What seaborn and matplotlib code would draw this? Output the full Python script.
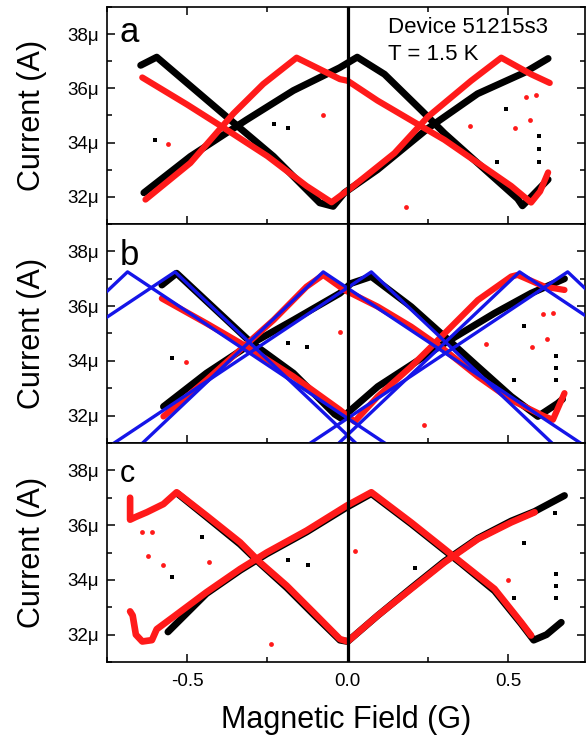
import matplotlib
matplotlib.use('Agg')
import matplotlib.pyplot as plt
import seaborn as sns
from matplotlib.ticker import MultipleLocator, FuncFormatter

# ---- panel a : measured branches (field in G, current in uA) ----
a_blk1_x = [-0.645, -0.595, -0.377, -0.231, -0.087, -0.045, -0.01, 0.093, 0.25, 0.405, 0.551, 0.625]
a_blk1_y = [36.85, 37.15, 34.95, 33.49, 31.78, 31.65, 32.15, 33.0, 34.52, 35.8, 36.58, 37.1]
a_blk2_x = [-0.635, -0.49, -0.315, -0.169, -0.025, 0.03, 0.115, 0.23, 0.302, 0.405, 0.53, 0.545, 0.625]
a_blk2_y = [32.15, 33.49, 34.84, 35.92, 36.76, 37.15, 36.52, 35.19, 34.34, 33.25, 31.93, 31.67, 32.64]
a_red1_x = [-0.64, -0.50, -0.40, -0.25, -0.128, -0.05, 0.012, 0.146, 0.25, 0.385, 0.479, 0.572, 0.63]
a_red1_y = [36.4, 35.4, 34.65, 33.5, 32.4, 31.8, 32.34, 33.61, 34.95, 36.28, 37.13, 36.52, 36.2]
a_red2_x = [-0.63, -0.49, -0.356, -0.263, -0.159, -0.024, 0.0, 0.093, 0.198, 0.302, 0.406, 0.51, 0.572, 0.60, 0.625]
a_red2_y = [31.9, 33.25, 35.07, 36.16, 37.13, 36.34, 36.28, 35.55, 34.82, 34.1, 33.25, 32.4, 31.79, 32.2, 32.9]
a_blk_out_x = [-0.60, -0.185, -0.231, 0.494, 0.467, 0.596, 0.596, 0.596]
a_blk_out_y = [34.1, 34.52, 34.68, 35.24, 33.28, 34.23, 33.75, 33.28]
a_red_out_x = [-0.56, -0.077, 0.183, 0.523, 0.38, 0.555, 0.586, 0.567]
a_red_out_y = [33.95, 35.0, 31.62, 34.55, 34.6, 35.68, 35.75, 34.84]

# ---- panel b : measured branches ----
b_blk1_x = [-0.579, -0.533, -0.304, -0.169, -0.04, -0.02, 0.0, 0.094, 0.302, 0.458, 0.572, 0.676]
b_blk1_y = [36.77, 37.2, 34.7, 33.55, 32.05, 31.9, 32.1, 33.06, 34.64, 35.74, 36.47, 37.0]
b_blk2_x = [-0.574, -0.44, -0.304, -0.169, -0.024, 0.011, 0.074, 0.198, 0.302, 0.406, 0.51, 0.593, 0.655, 0.67]
b_blk2_y = [32.33, 33.55, 34.6, 35.49, 36.47, 36.83, 37.08, 35.98, 34.89, 33.79, 32.7, 31.97, 32.45, 32.6]
b_red1_x = [-0.579, -0.44, -0.315, -0.169, -0.024, 0.022, 0.094, 0.198, 0.302, 0.406, 0.51, 0.53, 0.614, 0.676]
b_red1_y = [36.28, 35.37, 34.52, 33.43, 32.21, 31.78, 32.7, 33.79, 35.0, 36.22, 37.08, 37.14, 36.71, 36.59]
b_red2_x = [-0.574, -0.44, -0.335, -0.231, -0.128, -0.076, -0.01, 0.094, 0.198, 0.302, 0.406, 0.51, 0.614, 0.64, 0.676]
b_red2_y = [31.97, 33.3, 34.4, 35.49, 36.71, 37.14, 36.59, 35.98, 35.25, 34.4, 33.43, 32.57, 31.97, 31.85, 32.82]
b_blk_out_x = [-0.546, -0.128, -0.185, 0.551, 0.65, 0.65, 0.65, 0.52]
b_blk_out_y = [34.1, 34.52, 34.65, 35.27, 34.18, 33.75, 33.3, 33.3]
b_red_out_x = [-0.505, -0.024, 0.237, 0.432, 0.574, 0.608, 0.64, 0.62]
b_red_out_y = [33.97, 35.07, 31.64, 34.62, 34.52, 35.71, 35.76, 34.8]

# ---- panel b : model lines (one inverted V per flux state) ----
fit_peaks_x = [-0.686, -0.538, -0.076, 0.074, 0.536, 0.686]
fit_left_x = [-1.285, -1.391, -0.675, -0.779, -0.063, -0.167]
fit_right_x = [0.167, 0.061, 0.777, 0.673, 1.389, 1.285]
fit_peak_y = 37.25
fit_base_y = 30.6

# ---- panel c : measured branches ----
c_blk1_x = [-0.53, -0.44, -0.335, -0.273, -0.19, -0.107, -0.024, 0.0, 0.094, 0.198, 0.302, 0.406, 0.51, 0.583, 0.676]
c_blk1_y = [37.15, 36.3, 35.3, 34.6, 33.72, 32.75, 31.8, 31.75, 32.7, 33.7, 34.68, 35.52, 36.15, 36.5, 37.08]
c_blk2_x = [-0.56, -0.44, -0.335, -0.252, -0.128, -0.003, 0.074, 0.198, 0.302, 0.354, 0.458, 0.541, 0.58, 0.62, 0.666]
c_blk2_y = [32.1, 33.5, 34.35, 34.95, 35.75, 36.65, 37.15, 36.05, 35.08, 34.6, 33.6, 32.4, 31.8, 32.0, 32.45]
c_red1_x = [-0.678, -0.678, -0.66, -0.626, -0.574, -0.533, -0.44, -0.335, -0.273, -0.19, -0.107, -0.024, 0.0, 0.094, 0.198, 0.302, 0.406, 0.51, 0.583]
c_red1_y = [37.0, 36.2, 36.3, 36.47, 36.77, 37.2, 36.35, 35.37, 34.64, 33.79, 32.82, 31.84, 31.75, 32.7, 33.67, 34.64, 35.49, 36.1, 36.47]
c_red2_x = [-0.678, -0.67, -0.66, -0.64, -0.61, -0.595, -0.543, -0.44, -0.335, -0.252, -0.128, -0.003, 0.074, 0.198, 0.302, 0.354, 0.458, 0.541, 0.572]
c_red2_y = [32.85, 32.7, 32.0, 31.75, 31.8, 32.2, 32.65, 33.55, 34.4, 35.0, 35.8, 36.71, 37.2, 36.1, 35.13, 34.64, 33.67, 32.45, 31.97]
c_blk_out_x = [-0.546, -0.455, -0.125, -0.185, 0.209, 0.52, 0.551, 0.65, 0.65, 0.65, 0.645]
c_blk_out_y = [34.12, 35.55, 34.54, 34.74, 34.42, 33.33, 35.34, 34.22, 33.77, 33.33, 36.44]
c_red_out_x = [-0.642, -0.611, -0.621, -0.576, -0.432, -0.24, 0.022, 0.50]
c_red_out_y = [35.76, 35.75, 34.89, 34.54, 34.64, 31.66, 35.07, 34.01]

BLACK = '#000000'
RED = '#ff1a1a'
BLUE = '#1515e8'

sns.set_theme(style='ticks')
plt.rcParams['font.family'] = ['Liberation Sans', 'DejaVu Sans']


def branch(ax, xs, ys, color, lw):
    sns.lineplot(x=xs, y=ys, sort=False, estimator=None, color=color, lw=lw,
                 ax=ax, solid_capstyle='round', solid_joinstyle='round')


def outliers(ax, bx, by, rx, ry):
    sns.scatterplot(x=bx, y=by, marker='s', s=11, color=BLACK, linewidth=0, ax=ax)
    sns.scatterplot(x=rx, y=ry, marker='o', s=12, color=RED, linewidth=0, ax=ax)


fig = plt.figure(figsize=(5.86, 7.36), dpi=100)
left, width = 0.1826, 0.8157
ax_a = fig.add_axes([left, 0.6957, width, 0.2948])
ax_b = fig.add_axes([left, 0.3981, width, 0.2976])
ax_c = fig.add_axes([left, 0.1005, width, 0.2976])

# panel a
branch(ax_a, a_blk1_x, a_blk1_y, BLACK, 5)
branch(ax_a, a_blk2_x, a_blk2_y, BLACK, 5)
branch(ax_a, a_red1_x, a_red1_y, RED, 4.5)
branch(ax_a, a_red2_x, a_red2_y, RED, 4.5)
outliers(ax_a, a_blk_out_x, a_blk_out_y, a_red_out_x, a_red_out_y)

# panel b
branch(ax_b, b_blk1_x, b_blk1_y, BLACK, 5)
branch(ax_b, b_blk2_x, b_blk2_y, BLACK, 5)
branch(ax_b, b_red1_x, b_red1_y, RED, 4.5)
branch(ax_b, b_red2_x, b_red2_y, RED, 4.5)
outliers(ax_b, b_blk_out_x, b_blk_out_y, b_red_out_x, b_red_out_y)
for xl, xp, xr in zip(fit_left_x, fit_peaks_x, fit_right_x):
    ax_b.plot([xl, xp, xr], [fit_base_y, fit_peak_y, fit_base_y], color=BLUE, lw=2.4, zorder=4)

# panel c
branch(ax_c, c_blk1_x, c_blk1_y, BLACK, 5)
branch(ax_c, c_blk2_x, c_blk2_y, BLACK, 5)
branch(ax_c, c_red1_x, c_red1_y, RED, 4.8)
branch(ax_c, c_red2_x, c_red2_y, RED, 4.8)
outliers(ax_c, c_blk_out_x, c_blk_out_y, c_red_out_x, c_red_out_y)

fmt = FuncFormatter(lambda v, p: f'{v:.0f}\u03bc')
for ax, letter, lsize, ly in [(ax_a, 'a', 25, 0.84), (ax_b, 'b', 25, 0.813), (ax_c, 'c', 22, 0.823)]:
    ax.set_xlim(-0.75, 0.74)
    ax.set_ylim(31.0, 39.0)
    ax.axvline(0, color=BLACK, lw=2.3, zorder=6)
    ax.xaxis.set_major_locator(MultipleLocator(0.5))
    ax.xaxis.set_minor_locator(MultipleLocator(0.25))
    ax.set_yticks([32, 34, 36, 38])
    ax.yaxis.set_minor_locator(MultipleLocator(1))
    ax.yaxis.set_major_formatter(fmt)
    ax.tick_params(which='both', direction='in', left=True, right=True, bottom=True,
                   top=(ax is ax_a), labelbottom=(ax is ax_c), labelsize=13.5,
                   width=1.1, colors=BLACK, pad=6)
    ax.tick_params(axis='x', pad=8)
    ax.tick_params(which='major', length=6)
    ax.tick_params(which='minor', length=3.5)
    for sp in ax.spines.values():
        sp.set_linewidth(1.2)
        sp.set_color(BLACK)
        sp.set_visible(True)
    ax.set_ylabel('Current (A)', fontsize=22, color=BLACK)
    ax.yaxis.set_label_coords(-0.125, 0.5)
    ax.text(0.027, ly, letter, transform=ax.transAxes, fontsize=lsize, color=BLACK,
            va='baseline', ha='left')

ax_a.text(0.588, 0.88, 'Device 51215s3', transform=ax_a.transAxes, fontsize=16,
          va='baseline', ha='left', color=BLACK)
ax_a.text(0.588, 0.756, 'T = 1.5 K', transform=ax_a.transAxes, fontsize=16,
          va='baseline', ha='left', color=BLACK)

ax_c.set_xlabel('Magnetic Field (G)', fontsize=22, color=BLACK)
ax_c.xaxis.set_label_coords(0.5, -0.195)
ax_c.set_xticklabels(['', '-0.5', '0.0', '0.5', ''])

fig.savefig('out.png', dpi=100)
